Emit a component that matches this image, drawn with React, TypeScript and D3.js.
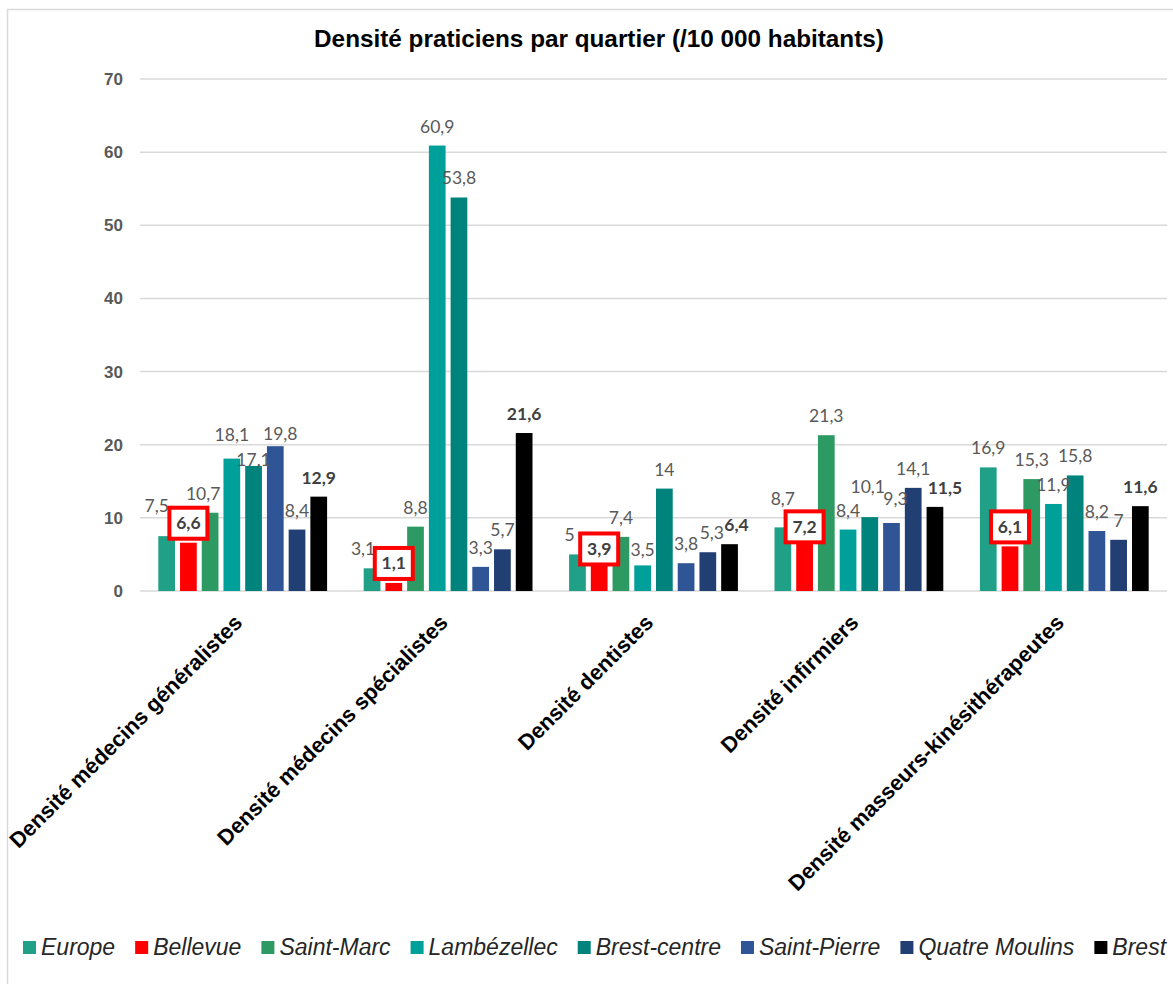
import React, { useMemo } from "react";
import * as d3 from "d3";

const title = "Densité praticiens par quartier (/10 000 habitants)";
const categories = [
  "Densité médecins généralistes",
  "Densité médecins spécialistes",
  "Densité dentistes",
  "Densité infirmiers",
  "Densité masseurs-kinésithérapeutes",
];
const seriesNames = [
  "Europe",
  "Bellevue",
  "Saint-Marc",
  "Lambézellec",
  "Brest-centre",
  "Saint-Pierre",
  "Quatre Moulins",
  "Brest",
];
const europe = [7.5, 3.1, 5, 8.7, 16.9];
const bellevue = [6.6, 1.1, 3.9, 7.2, 6.1];
const saintMarc = [10.7, 8.8, 7.4, 21.3, 15.3];
const lambezellec = [18.1, 60.9, 3.5, 8.4, 11.9];
const brestCentre = [17.1, 53.8, 14, 10.1, 15.8];
const saintPierre = [19.8, 3.3, 3.8, 9.3, 8.2];
const quatreMoulins = [8.4, 5.7, 5.3, 14.1, 7];
const brest = [12.9, 21.6, 6.4, 11.5, 11.6];
const yTicks = [0, 10, 20, 30, 40, 50, 60, 70];

const seriesValues = [europe, bellevue, saintMarc, lambezellec, brestCentre, saintPierre, quatreMoulins, brest];
const colors = ["#20A086", "#FF0000", "#2E9A63", "#00A09A", "#00837D", "#2F5597", "#213F73", "#000000"];

// label offsets (dx, dy) as placed in the original chart
const nudges: Record<string, [number, number]> = {
  "0-0": [-10, -11],
  "0-2": [-7, 0],
  "0-3": [0, -5],
  "0-4": [0, 13],
  "0-5": [5, 7],
  "1-0": [-9, 0],
  "2-0": [-8, 0],
  "2-1": [0, 6],
  "2-3": [0, 4],
  "2-6": [4, 0],
  "2-7": [7, 0],
  "3-0": [0, -9],
  "3-1": [0, 8],
  "3-4": [-2, -11],
  "3-5": [4, -5],
  "3-7": [10, 0],
};

const W = 1173;
const H = 984;
const left = 140;
const right = 1167;
const yTop = 79;
const yBottom = 591;

function fmt(v: number) {
  return String(v).replace(".", ",");
}

export default function App() {
  const x0 = d3.scaleBand<string>().domain(categories).range([left, right]).padding(0);
  const bw0 = x0.bandwidth();
  const x1 = d3
    .scaleBand<string>()
    .domain(seriesNames)
    .range([18.3, bw0 - 18.3])
    .paddingInner(0.23)
    .paddingOuter(0);
  const y = d3.scaleLinear().domain([0, 70]).range([yBottom, yTop]);
  const bw = x1.bandwidth();

  const legendItems = useMemo(() => {
    const canvas = document.createElement("canvas");
    const ctx = canvas.getContext("2d")!;
    ctx.font = "italic 23px 'Liberation Sans', Arial, sans-serif";
    let xPos = 23;
    return seriesNames.map((name, i) => {
      const w = ctx.measureText(name).width;
      const item = { name, x: xPos, color: colors[i] };
      xPos += 13 + 5 + w + 20;
      return item;
    });
  }, []);

  return (
    <svg
      width={W}
      height={H}
      style={{ position: "absolute", left: 0, top: 0, background: "#fff" }}
      fontFamily="'Liberation Sans', Arial, sans-serif"
    >
      <rect x={7.5} y={9.5} width={W + 20} height={H + 20} fill="#fff" stroke="#d9d9d9" strokeWidth={1.5} />
      <text x={599} y={47} textAnchor="middle" fontSize={24.3} fontWeight="bold" fill="#000">
        {title}
      </text>
      {yTicks.map((t) => (
        <g key={t}>
          <line x1={left} x2={right} y1={y(t)} y2={y(t)} stroke="#d9d9d9" strokeWidth={1.5} />
          <text
            x={123}
            y={y(t)}
            dy="0.35em"
            textAnchor="end"
            fontSize={17}
            fontWeight="bold"
            fill="#595959"
          >
            {t}
          </text>
        </g>
      ))}
      {categories.map((cat, ci) => {
        const cx = x0(cat)! + bw0 / 2;
        return (
          <g key={cat}>
            {seriesNames.map((s, si) => {
              const v = seriesValues[si][ci];
              const bx = x0(cat)! + x1(s)!;
              return (
                <rect key={s} x={bx} y={y(v)} width={bw} height={y(0) - y(v)} fill={colors[si]} />
              );
            })}
            {seriesNames.map((s, si) => {
              const v = seriesValues[si][ci];
              const bcx = x0(cat)! + x1(s)! + bw / 2;
              const [dx, dy] = nudges[`${ci}-${si}`] || [0, 0];
              if (si === 1) {
                const boxH = 31;
                const boxW = 38;
                const bottom = y(v) - 4 + dy;
                return (
                  <g key={s}>
                    <rect
                      x={bcx - boxW / 2 + dx}
                      y={bottom - boxH}
                      width={boxW}
                      height={boxH}
                      fill="#fff"
                      stroke="#FF0000"
                      strokeWidth={4}
                    />
                    <text
                      x={bcx + dx}
                      y={bottom - boxH / 2 + 6}
                      textAnchor="middle"
                      fontFamily="Lato, sans-serif"
                      fontSize={17.5}
                      fontWeight="bold"
                      fill="#404040"
                    >
                      {fmt(v)}
                    </text>
                  </g>
                );
              }
              const bold = si === 7;
              return (
                <text
                  key={s}
                  x={bcx + dx}
                  y={y(v) - 13 + dy}
                  textAnchor="middle"
                  fontFamily="Lato, sans-serif"
                  fontSize={17.5}
                  fontWeight={bold ? "bold" : "normal"}
                  fill={bold ? "#404040" : "#595959"}
                >
                  {fmt(v)}
                </text>
              );
            })}
            <text
              transform={`translate(${cx + 1},${624}) rotate(-45)`}
              textAnchor="end"
              fontSize={21.8}
              fontWeight="bold"
              fill="#000"
            >
              {cat}
            </text>
          </g>
        );
      })}
      {legendItems.map((it) => (
        <g key={it.name}>
          <rect x={it.x} y={941} width={13} height={13} fill={it.color} />
          <text x={it.x + 18} y={955} fontSize={23} fontStyle="italic" fill="#262626">
            {it.name}
          </text>
        </g>
      ))}
    </svg>
  );
}
